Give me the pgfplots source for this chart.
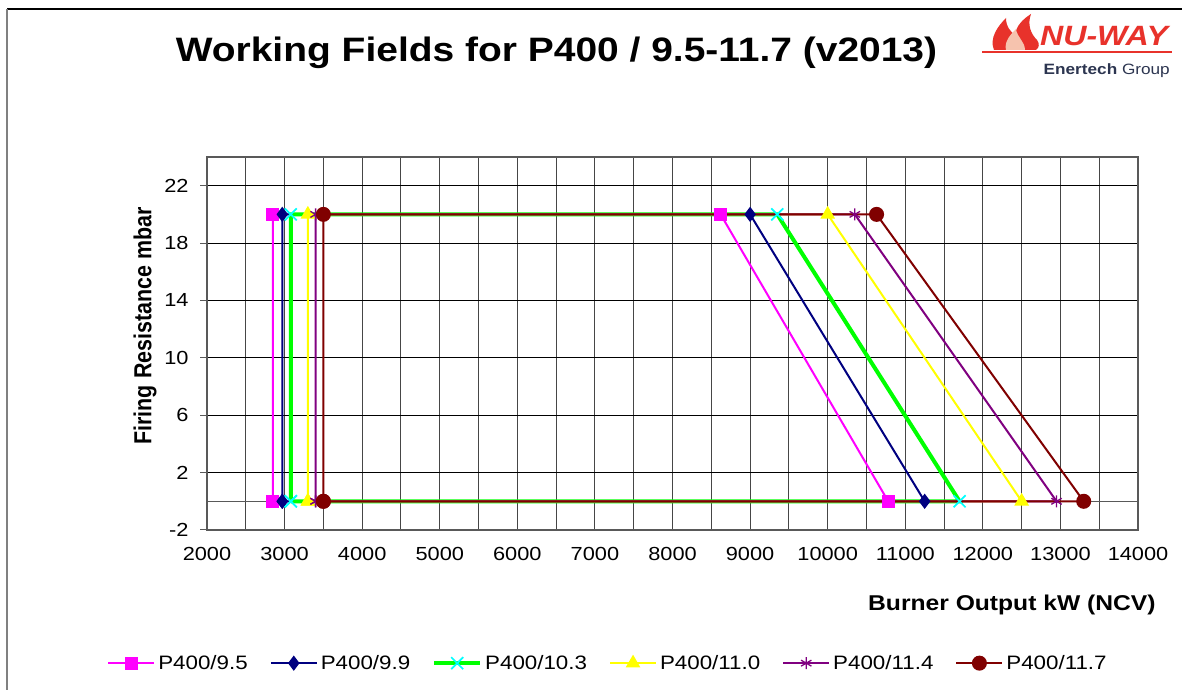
\documentclass[border=0pt]{standalone}
\usepackage{fontspec}
\setmainfont{Liberation Sans}[FakeStretch=1.15]
\newfontfamily\plainfont{Liberation Sans}
\usepackage{graphicx}
\usepackage{pgfplots}
\pgfplotsset{compat=1.18}
\definecolor{cMag}{HTML}{FF00FF}
\definecolor{cNavy}{HTML}{000080}
\definecolor{cGreen}{HTML}{00FF00}
\definecolor{cCyan}{HTML}{00FFFF}
\definecolor{cYel}{HTML}{FFFF00}
\definecolor{cPur}{HTML}{800080}
\definecolor{cDred}{HTML}{800000}
\definecolor{nwred}{HTML}{E8322B}
\definecolor{nwpeach}{HTML}{F6C3AE}
\definecolor{nwnavy}{HTML}{2C3550}
\begin{document}
\begin{tikzpicture}[x=1bp,y=1bp]
\path[use as bounding box] (0,0) rectangle (1182,690);
\fill[white] (0,0) rectangle (1182,690);
\draw[black, line width=1.2bp] (7,681) -- (1182,681);
\draw[gray, line width=1.5bp] (7,681) -- (7,0);
% title
\node[anchor=base] at (556.5,628) {\fontsize{34}{40}\selectfont\bfseries Working Fields for P400 / 9.5-11.7 (v2013)};
% logo
\fill[nwred] (994,640) .. controls (989,652) and (998,664) .. (1006,672) .. controls (1006,663) and (1011,658) .. (1015,655) .. controls (1016,664) and (1023,671) .. (1031,676) .. controls (1027,665) and (1031,656) .. (1037,650) .. controls (1040,646) and (1039,642) .. (1036,640) -- cycle;
\fill[nwpeach] (1006,640) .. controls (1004,648) and (1010,655) .. (1016,661) .. controls (1017,653) and (1025,648) .. (1025,640) -- cycle;
\fill[nwred] (982,636.5) rectangle (1172,639);
\node[anchor=base west, text=nwred, inner sep=0] at (1040,644) {\fontsize{28}{30}\selectfont\bfseries\itshape NU-WAY};
\node[anchor=base east, text=nwnavy, inner sep=0] at (1170,615) {\fontsize{15}{18}\selectfont\textbf{Enertech} Group};
% axis labels
\node[anchor=base west, inner sep=0] at (868,79) {\fontsize{21.5}{26}\selectfont\bfseries Burner Output kW (NCV)};
\node at (145,364) {\rotatebox{90}{\scalebox{1}[1.15]{\plainfont\fontsize{21.5}{26}\selectfont\bfseries Firing Resistance mbar}}};
\begin{axis}[
  scale only axis, width=931bp, height=373bp,
  at={(207bp,160bp)}, anchor=south west,
  xmin=2000, xmax=14000, ymin=-2, ymax=24,
  xtick={2000,3000,4000,5000,6000,7000,8000,9000,10000,11000,12000,13000,14000},
  ytick={-2,2,6,10,14,18,22},
  minor x tick num=1,
  scaled x ticks=false, scaled y ticks=false,
  xmajorgrids, xminorgrids, ymajorgrids,
  major x grid style={gray!55!black, line width=1bp},
  minor x grid style={gray!55!black, line width=1bp},
  major y grid style={black, line width=1bp},
  axis line style={gray!70!black, line width=1.3bp},
  xtick pos=bottom, ytick pos=left,
  tick align=outside,
  x tick style={draw=none}, minor x tick style={draw=none},
  y tick style={gray!70!black, line width=1bp},
  major tick length=7bp,
  tick label style={font=\fontsize{19}{22}\selectfont},
  xticklabel style={yshift=-7bp},
  yticklabel style={xshift=-8bp},
  /pgf/number format/assume math mode=true,
  /pgf/number format/1000 sep={},
  clip=false,
  legend columns=6,
  legend style={at={(0.4307,-0.357)}, anchor=center, draw=none, fill=none,
    font=\fontsize{19.5}{22}\selectfont,
    /tikz/every odd column/.append style={column sep=1bp},
    /tikz/every even column/.append style={column sep=20bp}},
  legend image code/.code={\draw[mark repeat=2,mark phase=2] plot coordinates {(0bp,0bp) (23bp,0bp) (46bp,0bp)};},
]
\addplot[gray!70!black, line width=1.2bp, no marks, forget plot] coordinates {(2000,0) (14000,0)};
\addplot[cMag, line width=2bp, mark=square*, mark size=5.5bp, mark options={solid, fill=cMag, draw=cMag}]
  coordinates {(2850,0) (2850,20) (8620,20) (10780,0) (2850,0)};
\addlegendentry{P400/9.5}
\addplot[cNavy, line width=2bp, mark=diamond*, mark size=6bp, mark options={solid, fill=cNavy, draw=cNavy}]
  coordinates {(2970,0) (2970,20) (9000,20) (11250,0) (2970,0)};
\addlegendentry{P400/9.9}
\addplot[cGreen, line width=4bp, mark=x, mark size=8.5bp, mark options={solid, draw=cCyan, line width=1.7bp}]
  coordinates {(3080,0) (3080,20) (9350,20) (11700,0) (3080,0)};
\addlegendentry{P400/10.3}
\addplot[cYel, line width=2bp, mark=triangle*, mark size=6.5bp, mark options={solid, fill=cYel, draw=cYel}]
  coordinates {(3300,0) (3300,20) (10000,20) (12500,0) (3300,0)};
\addlegendentry{P400/11.0}
\addplot[cPur, line width=2bp, mark=asterisk, mark size=6bp, mark options={solid, draw=cPur, line width=1.3bp}]
  coordinates {(3400,0) (3400,20) (10350,20) (12950,0) (3400,0)};
\addlegendentry{P400/11.4}
\addplot[cDred, line width=2bp, mark=*, mark size=6.5bp, mark options={solid, fill=cDred, draw=cDred}]
  coordinates {(3500,0) (3500,20) (10630,20) (13300,0) (3500,0)};
\addlegendentry{P400/11.7}
\end{axis}
\end{tikzpicture}
\end{document}
